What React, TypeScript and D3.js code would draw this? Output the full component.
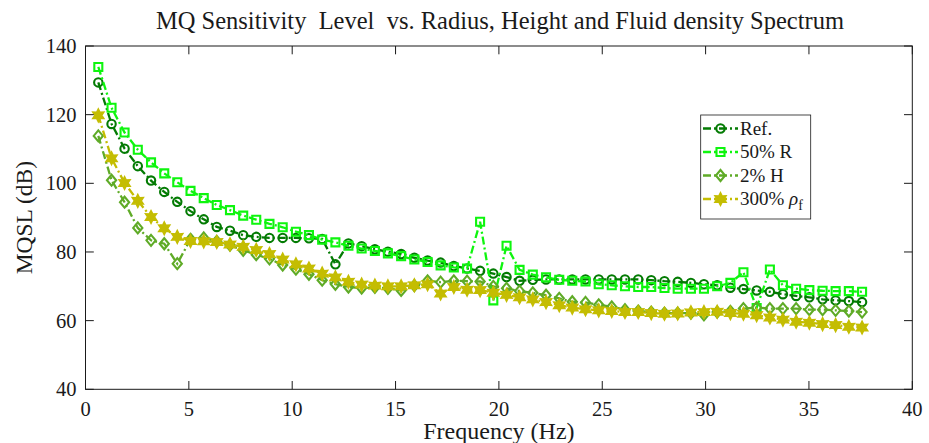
import React from "react";
import * as d3 from "d3";

const freqs = [0.62, 1.26, 1.89, 2.53, 3.17, 3.81, 4.44, 5.08, 5.72, 6.35, 6.99, 7.63, 8.26, 8.9, 9.54, 10.18, 10.81, 11.45, 12.09, 12.72, 13.36, 14.0, 14.63, 15.27, 15.91, 16.55, 17.18, 17.82, 18.46, 19.09, 19.73, 20.37, 21.0, 21.64, 22.28, 22.92, 23.55, 24.19, 24.83, 25.46, 26.1, 26.74, 27.37, 28.01, 28.65, 29.29, 29.92, 30.56, 31.2, 31.83, 32.47, 33.11, 33.74, 34.38, 35.02, 35.66, 36.29, 36.93, 37.57];

const refValues = [129.4, 117.3, 110.1, 105.0, 100.8, 97.5, 94.6, 91.9, 89.5, 87.3, 86.2, 84.9, 84.4, 84.1, 84.1, 84.1, 84.0, 83.8, 76.4, 82.5, 81.7, 80.8, 80.1, 79.4, 78.3, 77.5, 76.9, 75.9, 75.2, 74.5, 73.7, 72.7, 71.6, 71.9, 72.0, 72.0, 72.0, 72.0, 72.0, 72.0, 72.0, 72.0, 71.8, 71.5, 71.3, 71.0, 70.6, 70.3, 69.6, 69.2, 68.8, 68.4, 67.7, 67.2, 66.8, 66.2, 65.9, 65.7, 65.4];

const r50Values = [133.9, 122.0, 114.8, 109.8, 106.1, 102.9, 100.3, 97.8, 95.7, 93.7, 92.2, 90.6, 89.4, 88.2, 87.2, 85.9, 84.9, 83.6, 82.8, 81.8, 81.0, 80.3, 79.6, 78.8, 77.8, 77.1, 76.1, 75.5, 75.2, 88.8, 65.9, 81.8, 74.8, 73.4, 72.6, 71.9, 71.6, 71.4, 70.6, 70.3, 70.0, 69.8, 69.8, 69.5, 69.3, 69.3, 69.3, 70.0, 71.0, 74.1, 63.7, 74.9, 70.3, 69.3, 68.9, 68.7, 68.6, 68.6, 68.4];

const h2Values = [113.8, 100.9, 94.5, 87.0, 83.4, 82.4, 76.6, 83.7, 84.1, 83.1, 82.0, 80.5, 79.2, 78.0, 76.2, 75.0, 73.5, 71.8, 70.6, 69.8, 69.5, 69.7, 69.4, 68.8, 70.2, 71.6, 71.2, 71.6, 71.5, 71.4, 70.0, 69.4, 68.6, 68.1, 67.4, 66.5, 65.5, 65.3, 64.6, 64.0, 63.2, 62.8, 62.5, 62.2, 62.2, 62.2, 61.7, 62.5, 62.7, 63.5, 63.8, 63.5, 63.5, 63.5, 63.2, 63.2, 63.0, 62.8, 62.5];

const rho300Values = [119.8, 107.3, 100.1, 94.9, 90.2, 86.9, 84.4, 83.2, 83.1, 82.9, 82.2, 81.5, 80.6, 79.4, 77.8, 76.4, 75.2, 73.7, 72.6, 71.3, 70.5, 70.2, 70.0, 70.0, 70.3, 70.6, 67.9, 69.8, 69.0, 68.9, 68.1, 67.5, 66.8, 66.2, 65.4, 64.5, 63.8, 63.3, 63.0, 62.8, 62.5, 62.5, 62.2, 62.0, 62.1, 62.4, 62.5, 62.6, 62.2, 62.0, 61.6, 60.9, 60.3, 59.7, 59.4, 59.0, 58.7, 58.2, 58.0];

const xTicks = [0, 5, 10, 15, 20, 25, 30, 35, 40];
const yTicks = [40, 60, 80, 100, 120, 140];

const W = 929;
const H = 443;
const L = 85.5, R = 912.3, T = 46, B = 389.3;

const FONT = "Liberation Serif, DejaVu Serif, serif";
const TXT = "#1a1a1a";
const ts: React.CSSProperties = { fontFamily: FONT };

type Marker = "circle" | "square" | "diamond" | "hexagram";

const series: { name: string; values: number[]; color: string; marker: Marker }[] = [
  { name: "Ref.", values: refValues, color: "#037b03", marker: "circle" },
  { name: "50% R", values: r50Values, color: "#0ef50e", marker: "square" },
  { name: "2% H", values: h2Values, color: "#5fab27", marker: "diamond" },
  { name: "300% rho", values: rho300Values, color: "#c4bd02", marker: "hexagram" },
];

function markerPath(m: Marker): string {
  if (m === "circle") {
    const r = 4.2;
    return `M${r},0A${r},${r} 0 1,1 ${-r},0A${r},${r} 0 1,1 ${r},0Z`;
  }
  if (m === "square") {
    const s = 4;
    return `M${-s},${-s}L${s},${-s}L${s},${s}L${-s},${s}Z`;
  }
  if (m === "diamond") {
    return `M0,-5.5L4.6,0L0,5.5L-4.6,0Z`;
  }
  const pts: string[] = [];
  const ro = 6.5, ri = 3.5;
  for (let i = 0; i < 12; i++) {
    const a = (Math.PI / 6) * i - Math.PI / 2;
    const r = i % 2 === 0 ? ro : ri;
    pts.push(`${(r * Math.cos(a)).toFixed(2)},${(r * Math.sin(a)).toFixed(2)}`);
  }
  return "M" + pts.join("L") + "Z";
}

export default function App() {
  const x = d3.scaleLinear().domain([0, 40]).range([L, R]);
  const y = d3.scaleLinear().domain([40, 140]).range([B, T]);
  const line = d3
    .line<number>()
    .x((_, i) => x(freqs[i]))
    .y((d) => y(d));
  const tickLen = 8.3;
  const dash = "8,3,2,3";

  const legX = 700.7, legY = 115, legW = 110, legH = 104;
  const rowY = [128.5, 152, 175.5, 199];

  return (
    <svg width={W} height={H} style={{ position: "absolute", left: 0, top: 0, background: "#fff" }}>
      <rect x={0} y={0} width={W} height={H} fill="#fff" />
      <text x={500} y={29} textAnchor="middle" fontSize={24.5} fill={TXT} style={ts}>
        MQ Sensitivity{"\u00a0\u00a0"}Level{"\u00a0\u00a0"}vs. Radius, Height and Fluid density Spectrum
      </text>
      {series.map((s) => (
        <g key={s.name}>
          <path d={line(s.values) || ""} fill="none" stroke={s.color} strokeWidth={2.3} strokeDasharray={dash} />
          {s.values.map((v, i) => (
            <path
              key={i}
              d={markerPath(s.marker)}
              transform={`translate(${x(freqs[i])},${y(v)})`}
              fill={s.marker === "hexagram" ? s.color : "none"}
              stroke={s.color}
              strokeWidth={s.marker === "hexagram" ? 1.4 : 2.1}
            />
          ))}
        </g>
      ))}
      <rect x={L} y={T} width={R - L} height={B - T} fill="none" stroke={TXT} strokeWidth={1} />
      {xTicks.map((t) => (
        <g key={"x" + t}>
          <line x1={x(t)} x2={x(t)} y1={B} y2={B - tickLen} stroke={TXT} />
          <line x1={x(t)} x2={x(t)} y1={T} y2={T + tickLen} stroke={TXT} />
          <text x={x(t)} y={416} textAnchor="middle" fontSize={20.5} fill={TXT} style={ts}>
            {t}
          </text>
        </g>
      ))}
      {yTicks.map((t) => (
        <g key={"y" + t}>
          <line x1={L} x2={L + tickLen} y1={y(t)} y2={y(t)} stroke={TXT} />
          <line x1={R} x2={R - tickLen} y1={y(t)} y2={y(t)} stroke={TXT} />
          <text x={L - 9} y={y(t) + 7} textAnchor="end" fontSize={20.5} fill={TXT} style={ts}>
            {t}
          </text>
        </g>
      ))}
      <text x={(L + R) / 2} y={439} textAnchor="middle" fontSize={24} fill={TXT} style={ts}>
        Frequency (Hz)
      </text>
      <text transform={`translate(32,${(T + B) / 2}) rotate(-90)`} textAnchor="middle" fontSize={23.5} fill={TXT} style={ts}>
        MQSL (dB)
      </text>
      <rect x={legX} y={legY} width={legW} height={legH} fill="#fff" stroke={TXT} strokeWidth={0.8} />
      {series.map((s, i) => (
        <g key={"leg" + i}>
          <line x1={703} x2={738} y1={rowY[i]} y2={rowY[i]} stroke={s.color} strokeWidth={2.3} strokeDasharray={dash} />
          <path
            d={markerPath(s.marker)}
            transform={`translate(720.5,${rowY[i]})`}
            fill={s.marker === "hexagram" ? s.color : "none"}
            stroke={s.color}
            strokeWidth={s.marker === "hexagram" ? 1.4 : 2.1}
          />
          <text x={740} y={rowY[i] + 6} fontSize={19} fill={TXT} style={ts}>
            {i < 3 ? (
              s.name
            ) : (
              <>
                300%{"\u00a0"}
                <tspan fontStyle="italic">ρ</tspan>
                <tspan fontSize={14} dy={5}>f</tspan>
              </>
            )}
          </text>
        </g>
      ))}
    </svg>
  );
}
